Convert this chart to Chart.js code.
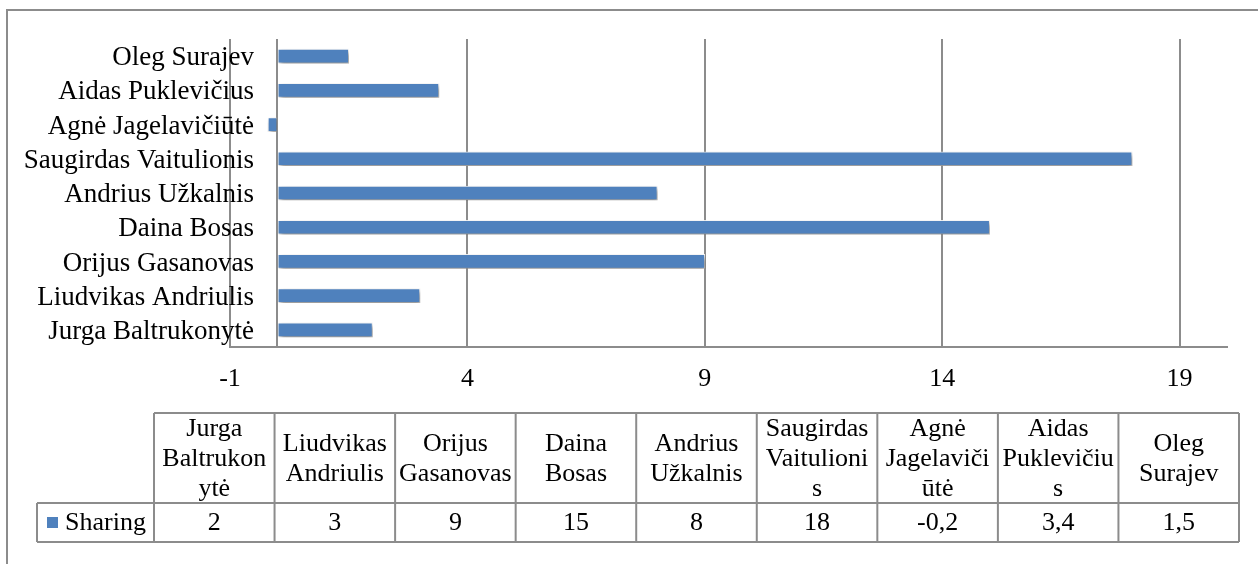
<!DOCTYPE html>
<html>
<head>
<meta charset="utf-8">
<script src="https://cdn.jsdelivr.net/npm/chart.js@4"></script>
<style>
  html, body { margin: 0; padding: 0; background: #ffffff; }
  #wrap { position: relative; width: 1258px; height: 564px; }
</style>
</head>
<body>
<div id="wrap"><canvas id="c" width="1258" height="564"></canvas></div>
<script>
// ---- data ----
const categories = ['Jurga Baltrukonytė', 'Liudvikas Andriulis', 'Orijus Gasanovas', 'Daina Bosas', 'Andrius Užkalnis', 'Saugirdas Vaitulionis', 'Agnė Jagelavičiūtė', 'Aidas Puklevičius', 'Oleg Surajev'];
const sharingValues = [2, 3, 9, 15, 8, 18, -0.2, 3.4, 1.5];
const seriesName = 'Sharing';
const xTickValues = [-1, 4, 9, 14, 19];
const xMin = -1;
const xMax = 20;
const tableHeaderLines = [
  ['Jurga', 'Baltrukon', 'ytė'],
  ['Liudvikas', 'Andriulis'],
  ['Orijus', 'Gasanovas'],
  ['Daina', 'Bosas'],
  ['Andrius', 'Užkalnis'],
  ['Saugirdas', 'Vaitulioni', 's'],
  ['Agnė', 'Jagelaviči', 'ūtė'],
  ['Aidas', 'Puklevičiu', 's'],
  ['Oleg', 'Surajev']
];

// ---- styles ----
const FONT_FAMILY = '"Liberation Serif", "Times New Roman", serif';
const BAR_COLOR = '#4f81bd';
const LINE_COLOR = '#8c8c8c';
const LABEL_OVERLAP = 24; // category labels reach into the plot area
const fmt = v => String(v).replace('.', ',');

const framePlugin = {
  id: 'frame',
  beforeDraw(chart) {
    const ctx = chart.ctx;
    ctx.save();
    ctx.strokeStyle = LINE_COLOR;
    ctx.lineWidth = 2;
    ctx.strokeRect(7, 10, 1400, 700);
    ctx.restore();
  }
};

const labelRoomPlugin = {
  id: 'labelRoom',
  afterLayout(chart) {
    chart.scales.y.right += LABEL_OVERLAP;
  }
};

const shadowPlugin = {
  id: 'barShadow',
  beforeDatasetsDraw(chart) {
    const ctx = chart.ctx;
    ctx.save();
    ctx.shadowColor = 'rgba(0,0,0,0.45)';
    ctx.shadowBlur = 5;
    ctx.shadowOffsetX = 2;
    ctx.shadowOffsetY = 3;
  },
  afterDatasetsDraw(chart) {
    chart.ctx.restore();
  }
};

const tablePlugin = {
  id: 'dataTable',
  afterDraw(chart) {
    const ctx = chart.ctx;
    const left0 = 37, left = 154, right = 1239, top = 413, mid = 503, bottom = 542;
    const n = categories.length;
    const cw = (right - left) / n;
    ctx.save();
    ctx.strokeStyle = LINE_COLOR;
    ctx.lineWidth = 2;
    ctx.beginPath();
    ctx.moveTo(left, top); ctx.lineTo(right, top);
    ctx.moveTo(left0, mid); ctx.lineTo(right, mid);
    ctx.moveTo(left0, bottom); ctx.lineTo(right, bottom);
    ctx.moveTo(left0, mid); ctx.lineTo(left0, bottom);
    for (let i = 0; i <= n; i++) {
      const x = left + i * cw;
      ctx.moveTo(x, top); ctx.lineTo(x, bottom);
    }
    ctx.stroke();

    ctx.fillStyle = '#000';
    ctx.font = '26px ' + FONT_FAMILY;
    ctx.textAlign = 'center';
    ctx.textBaseline = 'middle';
    const lh = 30;
    const hc = (top + mid) / 2 + 1.5;
    tableHeaderLines.forEach((lines, i) => {
      const cx = left + (i + 0.5) * cw;
      const y0 = hc - (lines.length - 1) * lh / 2;
      lines.forEach((t, j) => ctx.fillText(t, cx, y0 + j * lh));
    });
    const vc = (mid + bottom) / 2 + 1;
    sharingValues.forEach((v, i) => ctx.fillText(fmt(v), left + (i + 0.5) * cw, vc));

    ctx.fillStyle = BAR_COLOR;
    ctx.fillRect(47, 517, 11, 11);
    ctx.fillStyle = '#000';
    ctx.textAlign = 'left';
    ctx.fillText(seriesName, 65, vc);
    ctx.restore();
  }
};

const tickFont = { family: FONT_FAMILY, size: 26 };
const catFont = { family: FONT_FAMILY, size: 27 };

new Chart(document.getElementById('c'), {
  type: 'bar',
  data: {
    labels: categories,
    datasets: [{
      label: seriesName,
      data: sharingValues,
      backgroundColor: BAR_COLOR,
      borderColor: 'rgba(255,255,255,0.9)',
      borderWidth: 1,
      barThickness: 14
    }]
  },
  options: {
    indexAxis: 'y',
    responsive: false,
    animation: false,
    layout: { padding: { top: 39, right: 31, bottom: 0, left: 0 } },
    plugins: { legend: { display: false }, tooltip: { enabled: false } },
    scales: {
      x: {
        type: 'linear',
        min: xMin,
        max: xMax,
        afterBuildTicks: s => {
          s.ticks = [...xTickValues, 0].sort((a, b) => a - b).map(v => ({ value: v }));
        },
        ticks: {
          callback: v => (v === 0 ? '' : String(v)),
          font: tickFont,
          color: '#000',
          padding: 17,
          maxRotation: 0,
          autoSkip: false
        },
        grid: { color: LINE_COLOR, lineWidth: 2, drawTicks: false },
        border: { color: LINE_COLOR, width: 2 },
        afterFit: s => { s.height = 217; }
      },
      y: {
        reverse: true,
        ticks: { font: catFont, color: '#000', padding: 0, labelOffset: 2, autoSkip: false },
        grid: { display: false, drawTicks: false },
        border: { display: false },
        afterFit: s => { s.width = 230; }
      }
    }
  },
  plugins: [framePlugin, labelRoomPlugin, shadowPlugin, tablePlugin]
});
</script>
</body>
</html>
